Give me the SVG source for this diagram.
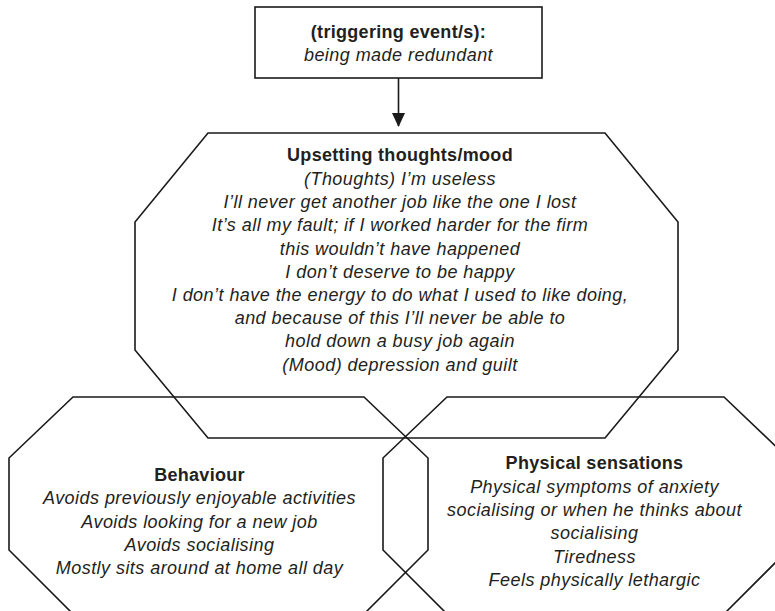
<svg xmlns="http://www.w3.org/2000/svg" width="775" height="611" viewBox="0 0 775 611">
  <style>
    .shape { fill: none; stroke: #1a1a1a; stroke-width: 1.6; stroke-linejoin: miter; }
    text { font-family: "Liberation Sans", Arial, sans-serif; font-size: 18px; letter-spacing: 0.45px; fill: #231f20; text-anchor: middle; }
    .title { font-weight: bold; letter-spacing: 0.3px; }
    .body { font-style: italic; }
    .link { stroke: #1a1a1a; stroke-width: 1.6; fill: none; }
  </style>
  <defs>
    <marker id="arrowhead" viewBox="0 0 14 14" refX="13" refY="7" markerWidth="14" markerHeight="14" markerUnits="userSpaceOnUse" orient="auto">
      <path d="M0,0.5 L14,7 L0,13.5 Z" fill="#1a1a1a"/>
    </marker>
  </defs>

  <rect width="775" height="611" fill="#ffffff"/>

  <!-- triggering event box -->
  <g id="trigger">
    <rect class="shape" x="255" y="7" width="287" height="71"/>
    <text class="title" x="398.5" y="38">(triggering event/s):</text>
    <text class="body" x="398.5" y="61">being made redundant</text>
  </g>

  <!-- thoughts / mood octagon -->
  <g id="thoughts">
    <polygon class="shape" points="208,133 605,133 678,222 678,350 605,438 208,438 135,350 135,222"/>
    <text class="title" x="400" y="161">Upsetting thoughts/mood</text>
    <text class="body" x="400" y="185">(Thoughts) I’m useless</text>
    <text class="body" x="400" y="208">I’ll never get another job like the one I lost</text>
    <text class="body" x="400" y="231">It’s all my fault; if I worked harder for the firm</text>
    <text class="body" x="400" y="255">this wouldn’t have happened</text>
    <text class="body" x="400" y="278">I don’t deserve to be happy</text>
    <text class="body" x="400" y="301">I don’t have the energy to do what I used to like doing,</text>
    <text class="body" x="400" y="324">and because of this I’ll never be able to</text>
    <text class="body" x="400" y="347">hold down a busy job again</text>
    <text class="body" x="400" y="371">(Mood) depression and guilt</text>
  </g>

  <!-- behaviour octagon -->
  <g id="behaviour">
    <polygon class="shape" points="73,397 364,397 428,458 428,550 364,614 73,614 9,550 9,458"/>
    <text class="title" x="199.5" y="481">Behaviour</text>
    <text class="body" x="199.5" y="504">Avoids previously enjoyable activities</text>
    <text class="body" x="199.5" y="528">Avoids looking for a new job</text>
    <text class="body" x="199.5" y="551">Avoids socialising</text>
    <text class="body" x="199.5" y="574">Mostly sits around at home all day</text>
  </g>

  <!-- physical sensations octagon -->
  <g id="physical">
    <polygon class="shape" points="447,397 724,397 788,458 788,550 724,614 447,614 383,550 383,458"/>
    <text class="title" x="594.5" y="469">Physical sensations</text>
    <text class="body" x="594.5" y="493">Physical symptoms of anxiety</text>
    <text class="body" x="594.5" y="516">socialising or when he thinks about</text>
    <text class="body" x="594.5" y="539">socialising</text>
    <text class="body" x="594.5" y="563">Tiredness</text>
    <text class="body" x="594.5" y="586">Feels physically lethargic</text>
  </g>

  <!-- connectors -->
  <g id="connectors">
    <line class="link" x1="398.5" y1="78" x2="398.5" y2="126" marker-end="url(#arrowhead)"/>
  </g>
</svg>
